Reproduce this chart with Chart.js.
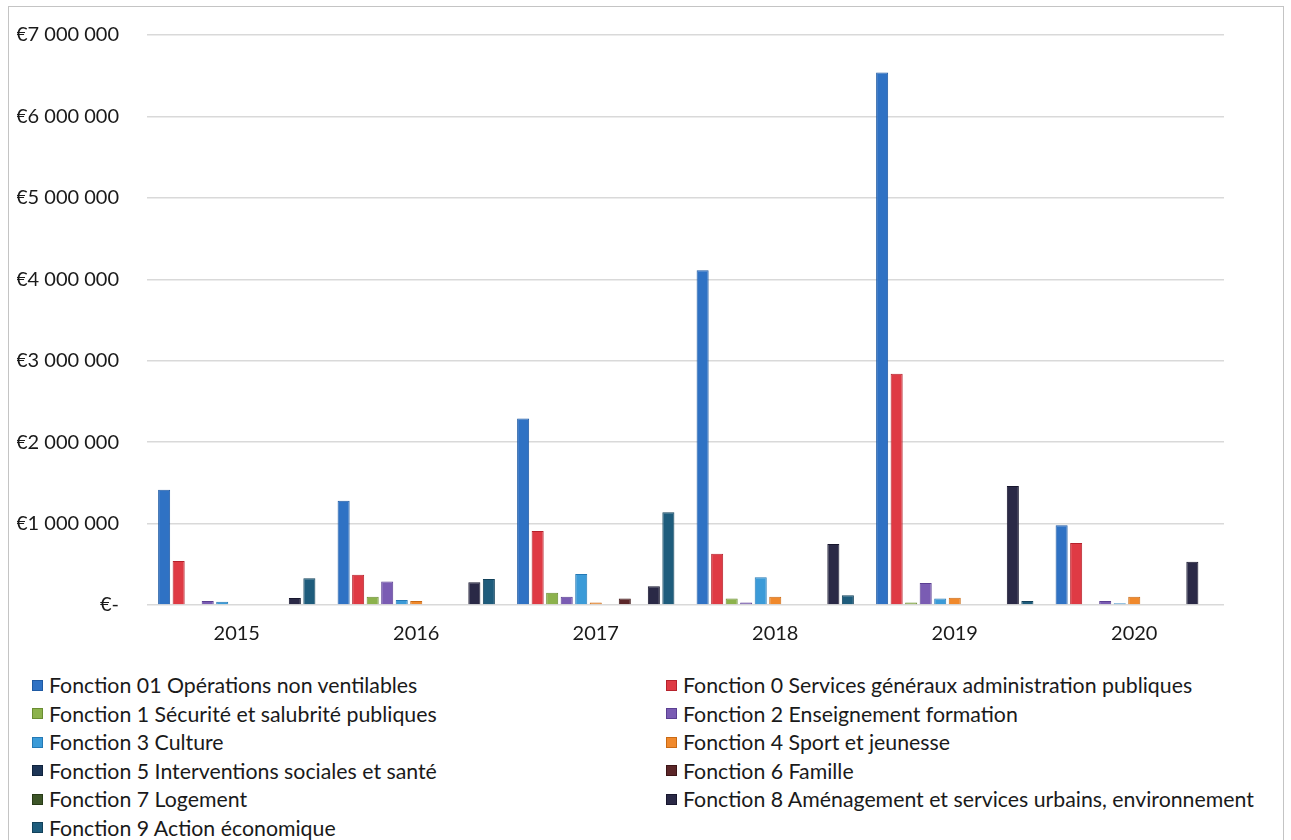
<!DOCTYPE html>
<html>
<head>
<meta charset="utf-8">
<script src="https://cdn.jsdelivr.net/npm/chart.js@4.4.1/dist/chart.umd.min.js"></script>
<style>
  body { margin: 0; background: #fff; font-family: Lato, "Open Sans", sans-serif; }
  #frame {
    position: absolute; left: 8px; top: 6px; width: 1276px; height: 900px;
    border: 1px solid #c4c4c4; box-sizing: border-box;
  }
  #wrap { position: absolute; left: 9px; top: -5px; width: 1276px; height: 660px; }
  #legend {
    position: absolute; left: 32px; top: 671px; width: 1250px;
    display: grid; grid-template-columns: 634px 600px; grid-auto-rows: 28.5px;
    font-size: 21.3px; color: #1a1a1a;
  }
  .item { display: flex; align-items: center; white-space: nowrap; }
  .box { width: 11px; height: 11px; margin-right: 6px; box-sizing: border-box; }
</style>
</head>
<body>
<div id="frame"></div>
<div id="wrap"><canvas id="chart"></canvas></div>
<div id="legend"></div>
<script>
// =======================
// DONNÉES
// =======================

const years = ["2015", "2016", "2017", "2018", "2019", "2020"];

const fonctionNames = [
  "Fonction 01 Opérations non ventilables",
  "Fonction 0 Services généraux administration publiques",
  "Fonction 1 Sécurité et salubrité publiques",
  "Fonction 2 Enseignement formation",
  "Fonction 3 Culture",
  "Fonction 4 Sport et jeunesse",
  "Fonction 5 Interventions sociales et santé",
  "Fonction 6 Famille",
  "Fonction 7 Logement",
  "Fonction 8 Aménagement et services urbains, environnement",
  "Fonction 9 Action économique"
];

const f01 = [1415000, 1280000, 2290000, 4110000, 6540000, 980000];
const f0  = [540000, 370000, 910000, 630000, 2840000, 760000];
const f1  = [0, 100000, 150000, 80000, 30000, 0];
const f2  = [50000, 290000, 100000, 30000, 270000, 50000];
const f3  = [40000, 60000, 380000, 340000, 80000, 20000];
const f4  = [0, 50000, 30000, 100000, 90000, 100000];
const f5  = [0, 0, 0, 0, 0, 0];
const f6  = [0, 0, 80000, 0, 0, 0];
const f7  = [0, 0, 0, 0, 0, 0];
const f8  = [85000, 280000, 230000, 750000, 1460000, 530000];
const f9  = [330000, 320000, 1140000, 120000, 50000, 0];

const yTicks = [0, 1000000, 2000000, 3000000, 4000000, 5000000, 6000000, 7000000];

const fillColors = ["#2f72c4", "#df3a44", "#8cb24c", "#7a5cb3", "#3b9bd8", "#f0892c",
                    "#1d3556", "#5b2628", "#3d5528", "#2a2946", "#1e5c7c"];
const lineColors = ["#1f5aa3", "#b5222c", "#6a8d32", "#5b3f92", "#2479b5", "#c96a14",
                    "#10233d", "#3d1517", "#283b17", "#18172e", "#12425b"];

// =======================
// HELPERS
// =======================

function euro(v) {
  if (v === 0) return "€-";
  return "€" + String(v).replace(/\B(?=(\d{3})+(?!\d))/g, " ");
}

const series = [f01, f0, f1, f2, f3, f4, f5, f6, f7, f8, f9];

const datasets = series.map((values, i) => ({
  label: fonctionNames[i],
  data: values,
  backgroundColor: fillColors[i],
  borderColor: lineColors[i],
  borderWidth: 1,
  categoryPercentage: 0.89,
  barPercentage: 0.83
}));

// =======================
// GRAPHIQUE
// =======================

const chart = new Chart(document.getElementById("chart"), {
  type: "bar",
  data: { labels: years, datasets },
  options: {
    responsive: true,
    maintainAspectRatio: false,
    animation: false,
    layout: { padding: { left: 8, right: 61, top: 4, bottom: 0 } },
    plugins: {
      legend: { display: false },
      tooltip: { enabled: false }
    },
    scales: {
      x: {
        grid: { display: false },
        border: { display: false },
        ticks: { color: "#1a1a1a", padding: 9, font: { family: "Lato", size: 20 } }
      },
      y: {
        min: 0,
        max: 7000000,
        afterBuildTicks: axis => { axis.ticks = yTicks.map(v => ({ value: v })); },
        afterFit: axis => { axis.width = 130; },
        grid: { color: "#d9d9d9", lineWidth: 1.5, drawTicks: false },
        border: { display: false },
        ticks: {
          color: "#1a1a1a",
          padding: 28,
          font: { family: "Lato", size: 20 },
          callback: v => euro(v)
        }
      }
    }
  }
});

// =======================
// LÉGENDE (2 colonnes)
// =======================

const legendEl = document.getElementById("legend");
chart.data.datasets.forEach(ds => {
  const item = document.createElement("div");
  item.className = "item";
  const box = document.createElement("span");
  box.className = "box";
  box.style.background = ds.backgroundColor;
  box.style.border = "1px solid " + ds.borderColor;
  const txt = document.createElement("span");
  txt.textContent = ds.label;
  item.appendChild(box);
  item.appendChild(txt);
  legendEl.appendChild(item);
});
</script>
</body>
</html>
